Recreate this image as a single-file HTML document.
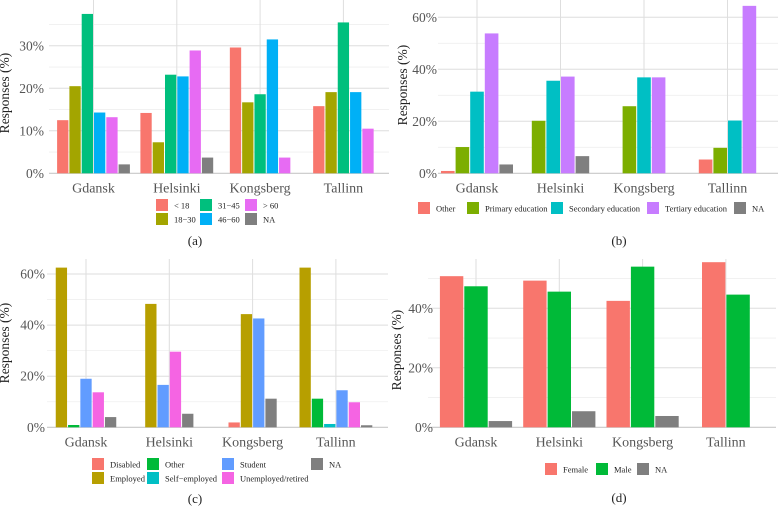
<!DOCTYPE html>
<html><head><meta charset="utf-8"><style>
html,body{margin:0;padding:0;background:#fff;}
svg{display:block;font-family:"Liberation Serif",serif;}
</style></head><body>
<svg id="fig" width="778" height="509" viewBox="0 0 778 509" xmlns="http://www.w3.org/2000/svg"></svg>
<script>
const cities = ["Gdansk","Helsinki","Kongsberg","Tallinn"];
// (a) age
const ageLevels = ["< 18","18\u221230","31\u221245","46\u221260","> 60","NA"];
const ageValues = [
  [12.5,20.5,37.5,14.3,13.2,2.1],
  [14.2,7.3,23.2,22.8,28.9,3.7],
  [29.6,16.7,18.6,31.5,3.7,null],
  [15.8,19.1,35.5,19.1,10.5,null]];
const ageTicks = [0,10,20,30];
// (b) education
const eduLevels = ["Other","Primary education","Secondary education","Tertiary education","NA"];
const eduValues = [
  [0.9,10.1,31.4,53.8,3.4],
  [null,20.2,35.6,37.2,6.6],
  [null,25.8,36.9,36.9,null],
  [5.3,9.8,20.3,64.4,null]];
const eduTicks = [0,20,40,60];
// (c) employment
const empLevels = ["Disabled","Employed","Other","Self\u2212employed","Student","Unemployed/retired","NA"];
const empValues = [
  [null,62.5,0.9,null,19.0,13.7,4.0],
  [null,48.3,null,null,16.6,29.6,5.3],
  [1.9,44.3,null,null,42.6,null,11.2],
  [null,62.5,11.2,1.3,14.5,9.8,0.8]];
const empTicks = [0,20,40,60];
// (d) gender
const genLevels = ["Female","Male","NA"];
const genValues = [
  [50.8,47.4,2.1],
  [49.3,45.6,5.4],
  [42.5,54.0,3.8],
  [55.5,44.6,null]];
const genTicks = [0,20,40];

const NS="http://www.w3.org/2000/svg";
const svg=document.getElementById('fig');
function mk(tag,attrs,parent){const e=document.createElementNS(NS,tag);for(const k in attrs)e.setAttribute(k,attrs[k]);(parent||svg).appendChild(e);return e;}

function panel(p){
  const g=mk('g',{});
  
  
  const y=v=>p.y0-v*p.scale;
  const x=i=>p.c0+i*p.step;
  // minor grid
  const maxT=p.ticks[p.ticks.length-1];
  for(let t=p.ticks[1]/2;t<=p.ymax;t+=p.ticks[1]){
    if(p.ticks.indexOf(t)>=0)continue;
    const l=mk('line',{x1:p.left,x2:p.right,y1:y(t),y2:y(t),stroke:'#efefef','stroke-width':0.8},g);
    
    
  }
  p.ticks.forEach(t=>{
    const l=mk('line',{x1:p.left,x2:p.right,y1:y(t),y2:y(t),stroke:t===0?'#c8c8c8':'#dedede','stroke-width':t===0?1.2:1},g);
    
    
    const tx=mk('text',{x:p.tickX,y:y(t)+4.5,'text-anchor':'end','font-size':13.5,fill:'#555'},g);
    tx.textContent=t+'%';
    
    
  });
  cities.forEach((c,i)=>{
    const l=mk('line',{x1:x(i),x2:x(i),y1:p.top,y2:p.y0,stroke:'#dedede','stroke-width':1},g);
    
    
    const tx=mk('text',{x:x(i),y:p.y0+19,'text-anchor':'middle','font-size':14,fill:'#555'},g);
    tx.textContent=c;
    
    
    const vals=p.values[i];
    const present=[];vals.forEach((v,j)=>{if(v!==null)present.push(j);});
    const start=x(i)-present.length*p.bw/2;
    present.forEach((j,k)=>{
      const v=vals[j];
      const r=mk('rect',{x:start+k*p.bw+0.5,y:y(v),width:p.bw-1,height:p.y0-y(v),fill:p.colors[j]},g);
      
      
    });
  });
  const yt=mk('text',{x:0,y:0,'text-anchor':'middle','font-size':13.5,fill:'#222',transform:`translate(${p.titleX},${p.titleY}) rotate(-90)`},g);
  yt.textContent='Responses (%)';
  
  
  p.legend.forEach((L,j)=>{
    const r=mk('rect',{x:L[0],y:L[1],width:12,height:12,fill:p.colors[j]},g);
    
    
    const t=mk('text',{x:L[0]+18,y:L[1]+9.5,'font-size':8.5,fill:'#222'},g);
    t.textContent=p.levels[j];
    
    
  });
  const cap=mk('text',{x:p.capX,y:p.capY,'text-anchor':'middle','font-size':13,fill:'#222'},g);
  cap.textContent=p.cap;
  
  
}

panel({name:'panel-a-age',values:ageValues,levels:ageLevels,ticks:ageTicks,ymax:38,
  colors:['#F8766D','#A3A500','#00BF7D','#00B0F6','#E76BF3','#7F7F7F'],
  y0:173.3,scale:4.25,top:0,left:49,right:389,c0:93.5,step:83.3,bw:12.3,tickX:44,titleX:9,titleY:93,
  legend:[[156,199],[156,213],[200,199],[200,213],[245,199],[245,213]],cap:'(a)',capX:195,capY:245});
panel({name:'panel-b-education',values:eduValues,levels:eduLevels,ticks:eduTicks,ymax:66,
  colors:['#F8766D','#7CAE00','#00BFC4','#C77CFF','#7F7F7F'],
  y0:173.3,scale:2.6,top:0,left:438,right:778,c0:477,step:83.5,bw:14.6,tickX:437,titleX:407,titleY:85,
  legend:[[418,202],[467,202],[551,202],[647,202],[734,202]],cap:'(b)',capX:619,capY:245});
panel({name:'panel-c-employment',values:empValues,levels:empLevels,ticks:empTicks,ymax:63,
  colors:['#F8766D','#B79F00','#00BA38','#00BFC4','#619CFF','#F564E3','#7F7F7F'],
  y0:427.3,scale:2.555,top:259,left:47,right:388,c0:86,step:83.3,bw:12.3,tickX:45,titleX:9,titleY:343,
  legend:[[92,458],[92,472],[147,458],[147,472],[222,458],[222,472],[311,458]],cap:'(c)',capX:195,capY:503});
panel({name:'panel-d-gender',values:genValues,levels:genLevels,ticks:genTicks,ymax:56,
  colors:['#F8766D','#00BA38','#7F7F7F'],
  y0:427.3,scale:2.975,top:259,left:428,right:776,c0:476,step:83.3,bw:24.4,tickX:433,titleX:401,titleY:350,
  legend:[[545,463],[596,463],[637,463]],cap:'(d)',capX:619,capY:502});
</script>
</body></html>
